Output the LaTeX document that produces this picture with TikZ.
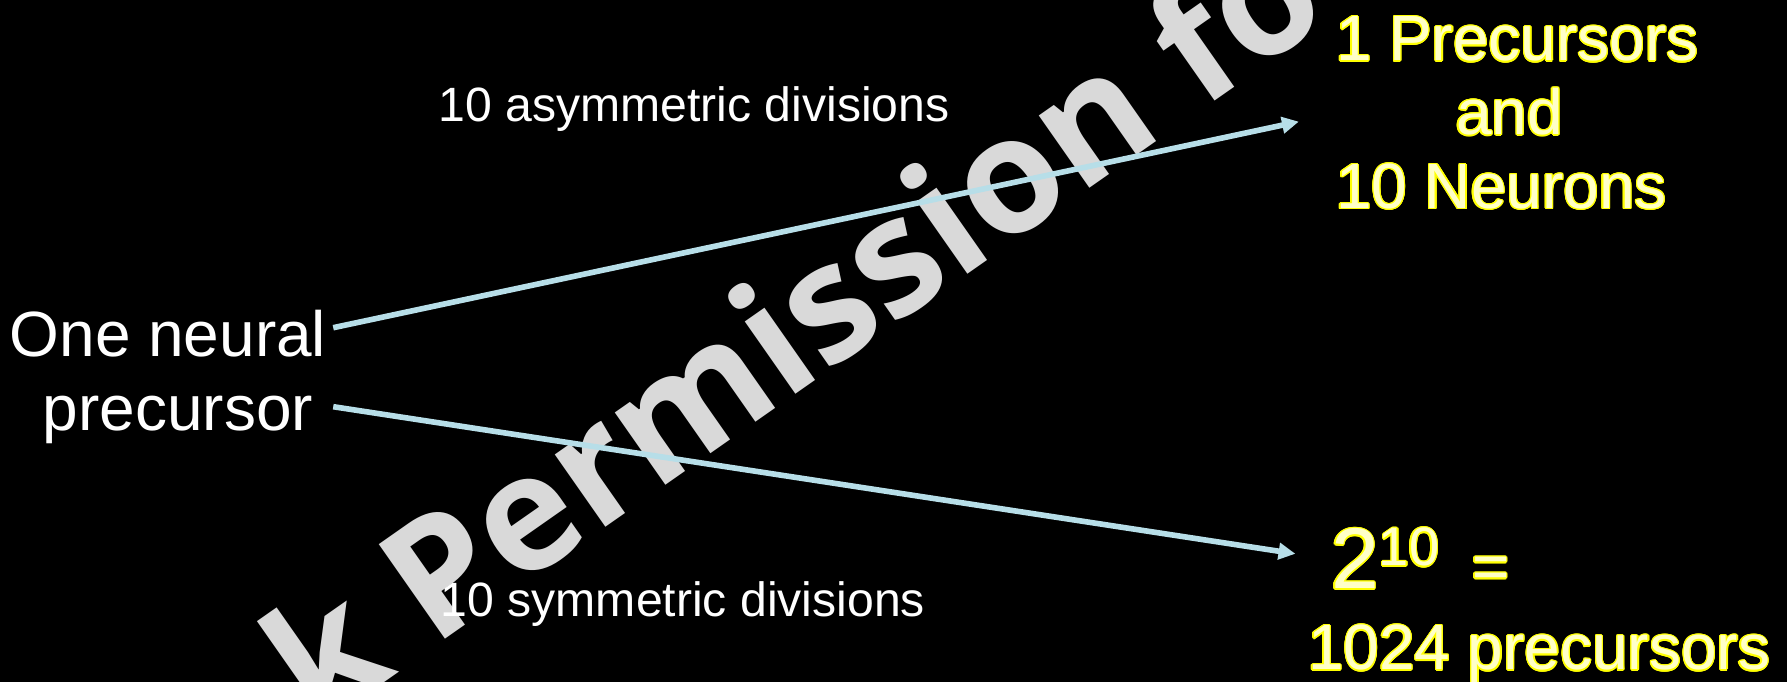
\documentclass[tikz,border=0pt]{standalone}
\usepackage{fontspec}
\setmainfont{Liberation Sans}
\newfontfamily\markfont{Open Sans}
\usepackage[copies]{contour}
\usetikzlibrary{arrows.meta,positioning}
\definecolor{arrowblue}{RGB}{183,222,232}
\definecolor{marktext}{RGB}{217,217,217}
\definecolor{resultfill}{RGB}{255,255,200}
\definecolor{resultedge}{RGB}{255,255,0}
\contourlength{0.35pt}
\newcommand{\yel}[1]{\contour{resultedge}{#1}}

\begin{document}
\begin{tikzpicture}[
  >={Triangle[length=4.8pt,width=4.6pt]},
  every node/.style={inner sep=0pt, outer sep=0pt},
  label/.style={white, font=\fontsize{13.7}{16}\selectfont},
  bigtext/.style={font=\fontsize{18.2}{21}\selectfont},
  result/.style={bigtext, text=resultfill},
  link/.style={->, arrowblue, line width=1.6pt},
]
\fill[black] (0,0) rectangle (17.87,6.82);
\useasboundingbox (0,0) rectangle (17.87,6.82);
% watermark, cut by the frame
\begin{scope}
\clip (0,0) rectangle (17.87,6.82);
\node[text=marktext, rotate=35, font=\markfont\bfseries\fontsize{46}{50}\selectfont] (mark) at (7.91,3.59) {k Permission fo};
\end{scope}

\node[bigtext, text=white, align=center, anchor=north] (src) at (1.68,3.72) {One neural\\\hspace*{0.2cm}precursor};
\node[result, align=left, anchor=north west] (pre) at (13.36,6.65) {\yel{1 Precursors}\\\hspace*{1.2cm}\yel{and}\\\yel{10 Neurons}};
\node[result, anchor=base west] (pow) at (13.31,0.93) {\yel{\fontsize{24.5}{28}\selectfont 2}\raisebox{0.23cm}{\yel{\fontsize{15.4}{18}\selectfont 10}}\hspace{0.33cm}\yel{=}};
\node[result, anchor=base west] (total) at (13.08,0.12) {\yel{1024 precursors}};
\node[label] (asym) at (6.94,5.725) {10 asymmetric divisions};
\node[label] (sym) at (6.83,0.775) {10 symmetric divisions};

\coordinate (asymstart) at ([shift={(0.07,0.49)}]src.east);
\coordinate (symstart) at ([shift={(0.07,-0.30)}]src.east);
\draw[link, shorten >=0.38cm] (asymstart) -- (pre.west);
\draw[link, shorten >=0.36cm] (symstart) -- (pow.west);
\end{tikzpicture}
\end{document}
